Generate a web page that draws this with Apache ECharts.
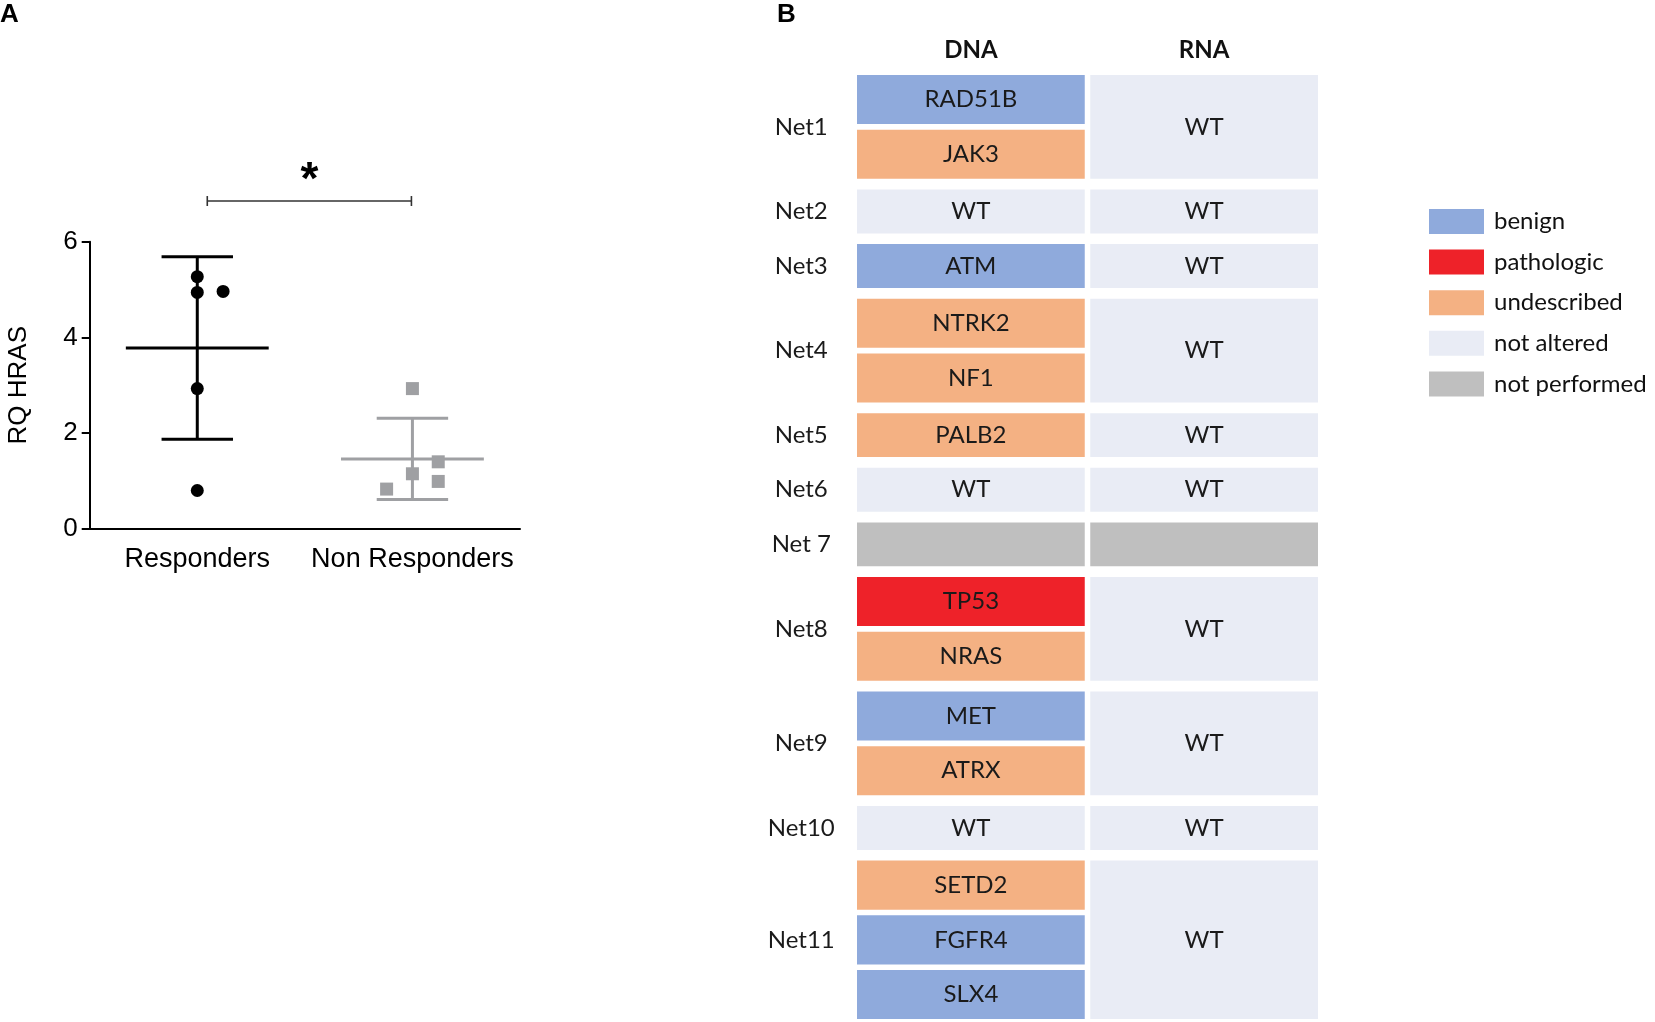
<!DOCTYPE html>
<html><head><meta charset="utf-8">
<script src="https://cdn.jsdelivr.net/npm/echarts@6/dist/echarts.min.js"></script>
<style>html,body{margin:0;padding:0;background:#fff}#chart{width:1655px;height:1022px}</style>
</head><body><div id="chart"></div>
<script>
// ---------- Panel A data ----------
const groups = ['Responders', 'Non Responders'];
const responders = [5.27, 4.94, 4.96, 2.93, 0.80];
const nonResponders = [2.93, 1.40, 1.15, 0.99, 0.83];
const respJitter = [0, 0, 0.12, 0, 0];
const nonJitter = [0, 0.12, 0, 0.12, -0.12];
const yTicks = [0, 2, 4, 6];
const sigLabel = '*';
const sigLevel = 6.85;
const panelLabels = ['A', 'B'];

// ---------- Panel B data ----------
const columns = ['DNA', 'RNA'];
const nets = ['Net1', 'Net2', 'Net3', 'Net4', 'Net5', 'Net6', 'Net 7', 'Net8', 'Net9', 'Net10', 'Net11'];
const dnaGenes = [['RAD51B', 'JAK3'], ['WT'], ['ATM'], ['NTRK2', 'NF1'], ['PALB2'], ['WT'], [''], ['TP53', 'NRAS'], ['MET', 'ATRX'], ['WT'], ['SETD2', 'FGFR4', 'SLX4']];
const dnaStatus = [['benign', 'undescribed'], ['not altered'], ['benign'], ['undescribed', 'undescribed'], ['undescribed'], ['not altered'], ['not performed'], ['pathologic', 'undescribed'], ['benign', 'undescribed'], ['not altered'], ['undescribed', 'benign', 'benign']];
const rnaText = ['WT', 'WT', 'WT', 'WT', 'WT', 'WT', '', 'WT', 'WT', 'WT', 'WT'];
const rnaStatus = ['not altered', 'not altered', 'not altered', 'not altered', 'not altered', 'not altered', 'not performed', 'not altered', 'not altered', 'not altered', 'not altered'];
const statuses = ['benign', 'pathologic', 'undescribed', 'not altered', 'not performed'];

// ---------- styles ----------
const statusColors = {
  'benign': '#8FAADC', 'pathologic': '#EE2229', 'undescribed': '#F4B183',
  'not altered': '#E9ECF5', 'not performed': '#BFBFBF'
};
const FA = 'Liberation Sans, Arial, sans-serif';
const FB = 'Lato, sans-serif';
const SINGLE_H = 43.9, MULTI_H = 49.1, INNER_GAP = 5.6, OUTER_GAP = 10.7, COL_GAP = 5.5;

// ---------- helpers ----------
function mean(a) { return a.reduce((s, v) => s + v, 0) / a.length; }
function sd(a) { const m = mean(a); return Math.sqrt(a.reduce((s, v) => s + (v - m) * (v - m), 0) / (a.length - 1)); }
const seriesVals = [responders, nonResponders];
const groupColors = ['#000000', '#9FA0A3'];

// table layout (derived from the structure of the data)
let yCur = 0;
const cells = [];
const netSpans = [];
nets.forEach((net, i) => {
  const n = dnaGenes[i].length;
  const h = n > 1 ? MULTI_H : SINGLE_H;
  const start = yCur;
  for (let k = 0; k < n; k++) {
    cells.push({ col: 0, y0: yCur, y1: yCur + h, text: dnaGenes[i][k], status: dnaStatus[i][k] });
    yCur += h;
    if (k < n - 1) yCur += INNER_GAP;
  }
  cells.push({ col: 1, y0: start, y1: yCur, text: rnaText[i], status: rnaStatus[i] });
  netSpans.push({ y0: start, y1: yCur, name: net });
  if (i < nets.length - 1) yCur += OUTER_GAP;
});
const tableTotal = yCur;

const chart = echarts.init(document.getElementById('chart'), null, { renderer: 'canvas' });

const cellSeries = statuses.map(st => {
  const list = cells.filter(c => c.status === st);
  return {
    type: 'custom', name: st, xAxisIndex: 2, yAxisIndex: 1,
    itemStyle: { color: statusColors[st] },
    data: list.map(c => [c.col, c.y0, c.y1]),
    silent: true,
    renderItem: function (params, api) {
      const c = list[params.dataIndex];
      const p0 = api.coord([c.col, c.y0]);
      const p1 = api.coord([c.col + 1, c.y1]);
      const x = p0[0] + COL_GAP / 2, w = p1[0] - p0[0] - COL_GAP;
      const y = p0[1], h = p1[1] - p0[1];
      return {
        type: 'group', children: [
          { type: 'rect', shape: { x: x, y: y, width: w, height: h }, style: { fill: statusColors[st] } },
          { type: 'text', style: { text: c.text, x: x + w / 2, y: y + h / 2, align: 'center', verticalAlign: 'middle', fill: '#1A1A1A', font: '24px ' + FB } }
        ]
      };
    }
  };
});

const option = {
  backgroundColor: '#ffffff',
  animation: false,
  graphic: [
    { type: 'text', left: 0, top: 2, style: { text: panelLabels[0], font: 'bold 26px ' + FA, fill: '#000' } },
    { type: 'text', left: 777, top: 2, style: { text: panelLabels[1], font: 'bold 26px ' + FA, fill: '#000' } }
  ],
  legend: {
    data: statuses, orient: 'vertical', left: 1429, top: 209, padding: 0,
    icon: 'rect', itemWidth: 55, itemHeight: 25, itemGap: 15.6, selectedMode: false,
    textStyle: { fontSize: 24, fontFamily: FB, color: '#111', padding: [0, 0, 0, 5] }
  },
  grid: [
    { left: 89.7, top: 241.7, width: 430.3, height: 287.1 },
    { left: 854.25, top: 75, width: 466.5, height: tableTotal }
  ],
  xAxis: [
    {
      type: 'category', gridIndex: 0, data: groups, boundaryGap: true,
      axisLine: { lineStyle: { color: '#000', width: 2 } },
      axisTick: { alignWithLabel: true, length: 8, lineStyle: { color: '#000', width: 2 } },
      axisLabel: { interval: 0, fontSize: 27, fontFamily: FA, color: '#000', margin: 17 }
    },
    { type: 'value', gridIndex: 0, min: 0.5, max: 2.5, show: false },
    { type: 'value', gridIndex: 1, min: 0, max: 2, show: false },
    {
      type: 'category', gridIndex: 1, data: columns, position: 'top', boundaryGap: true,
      axisLine: { show: false }, axisTick: { show: false },
      axisLabel: { interval: 0, fontSize: 24, fontWeight: 'bold', fontFamily: FB, color: '#111', margin: 13 }
    }
  ],
  yAxis: [
    {
      type: 'value', gridIndex: 0, min: 0, max: 6, interval: 2,
      axisLine: { show: true, lineStyle: { color: '#000', width: 2 } },
      axisTick: { show: true, length: 8, lineStyle: { color: '#000', width: 2 } },
      axisLabel: { fontSize: 26, fontFamily: FA, color: '#000', margin: 12, formatter: v => yTicks.includes(v) ? String(v) : '' },
      splitLine: { show: false },
      name: 'RQ HRAS', nameLocation: 'middle', nameGap: 58, nameRotate: 90,
      nameTextStyle: { fontSize: 26, fontFamily: FA, color: '#000' }
    },
    { type: 'value', gridIndex: 1, min: 0, max: tableTotal, inverse: true, show: false }
  ],
  series: [
    {
      type: 'custom', name: 'meanSD', xAxisIndex: 1, yAxisIndex: 0, silent: true,
      data: seriesVals.map((vals, i) => [i + 1, mean(vals), sd(vals)]),
      renderItem: function (params, api) {
        const x = api.value(0), m = api.value(1), s = api.value(2);
        const col = groupColors[params.dataIndex];
        const c = api.coord([x, m]);
        const t = api.coord([x, m + s]);
        const b = api.coord([x, m - s]);
        const half = api.size([0.332, 0])[0];
        const cap = api.size([0.166, 0])[0];
        const st = { stroke: col, lineWidth: 3 };
        return {
          type: 'group', children: [
            { type: 'line', shape: { x1: c[0] - half, y1: c[1], x2: c[0] + half, y2: c[1] }, style: st },
            { type: 'line', shape: { x1: c[0], y1: t[1], x2: c[0], y2: b[1] }, style: st },
            { type: 'line', shape: { x1: c[0] - cap, y1: t[1], x2: c[0] + cap, y2: t[1] }, style: st },
            { type: 'line', shape: { x1: c[0] - cap, y1: b[1], x2: c[0] + cap, y2: b[1] }, style: st }
          ]
        };
      }
    },
    {
      type: 'scatter', name: groups[0], xAxisIndex: 1, yAxisIndex: 0, symbol: 'circle', symbolSize: 13,
      itemStyle: { color: groupColors[0], opacity: 1 }, silent: true,
      data: responders.map((v, i) => [1 + respJitter[i], v])
    },
    {
      type: 'scatter', name: groups[1], xAxisIndex: 1, yAxisIndex: 0, symbol: 'rect', symbolSize: 13,
      itemStyle: { color: groupColors[1], opacity: 1 }, silent: true,
      data: nonResponders.map((v, i) => [2 + nonJitter[i], v])
    },
    {
      type: 'custom', name: 'significance', xAxisIndex: 1, yAxisIndex: 0, silent: true, clip: false,
      data: [[1, 2, sigLevel]],
      renderItem: function (params, api) {
        const a = api.coord([api.value(0), api.value(2)]);
        const b = api.coord([api.value(1), api.value(2)]);
        const x1 = a[0] + 10, x2 = b[0] - 1, y = a[1];
        const st = { stroke: '#333', lineWidth: 1.6 };
        return {
          type: 'group', children: [
            { type: 'line', shape: { x1: x1, y1: y, x2: x2, y2: y }, style: st },
            { type: 'line', shape: { x1: x1, y1: y - 5, x2: x1, y2: y + 5 }, style: st },
            { type: 'line', shape: { x1: x2, y1: y - 5, x2: x2, y2: y + 5 }, style: st },
            { type: 'text', style: { text: sigLabel, x: (x1 + x2) / 2, y: y - 20, align: 'center', verticalAlign: 'middle', fill: '#000', font: 'bold 46px ' + FA } }
          ]
        };
      }
    },
    {
      type: 'custom', name: 'rowLabels', xAxisIndex: 2, yAxisIndex: 1, silent: true, clip: false,
      data: netSpans.map(s => [0, (s.y0 + s.y1) / 2]),
      renderItem: function (params, api) {
        const p = api.coord([api.value(0), api.value(1)]);
        return { type: 'text', style: { text: netSpans[params.dataIndex].name, x: p[0] - 53, y: p[1], align: 'center', verticalAlign: 'middle', fill: '#1A1A1A', font: '24px ' + FB } };
      }
    }
  ].concat(cellSeries)
};
chart.setOption(option);
</script>
</body></html>
